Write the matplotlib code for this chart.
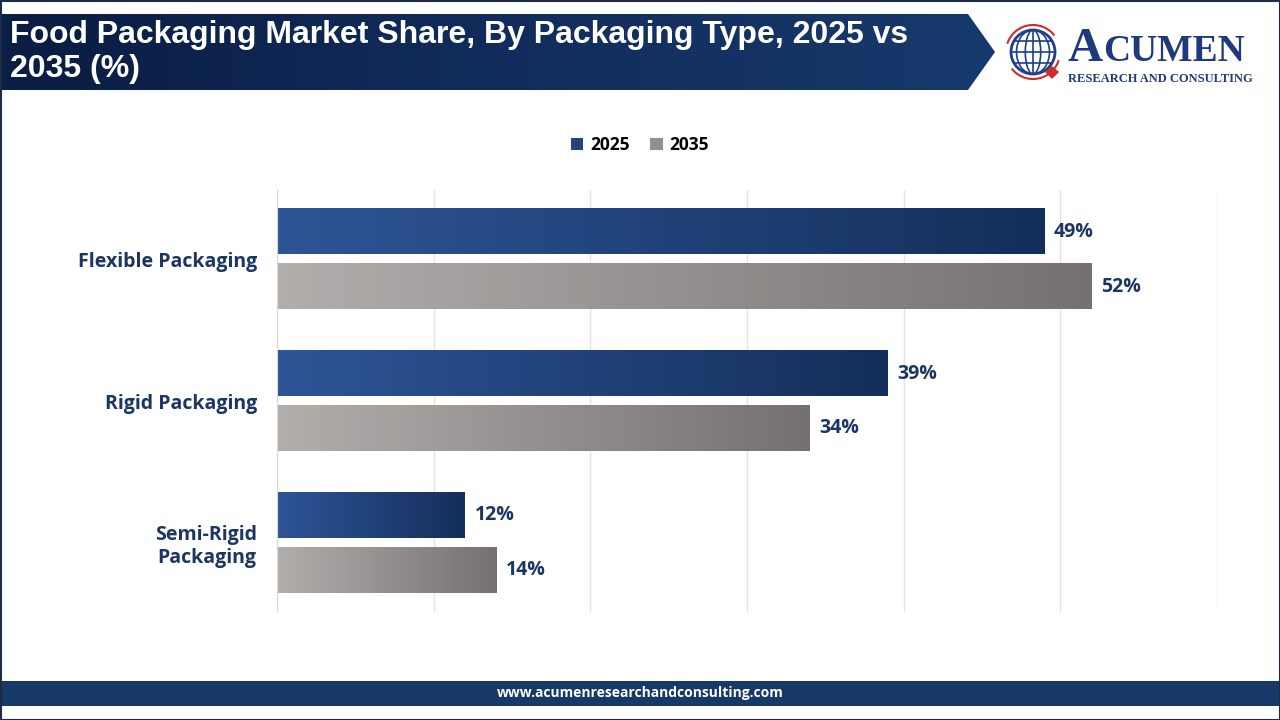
import numpy as np
import matplotlib
matplotlib.use("Agg")
import matplotlib.pyplot as plt
from matplotlib.patches import Polygon, Rectangle, Circle, Ellipse, Patch
from matplotlib.colors import LinearSegmentedColormap

categories = ["Flexible Packaging", "Rigid Packaging", "Semi-Rigid\nPackaging"]
years = ["2025", "2035"]
share_2025 = [49, 39, 12]
share_2035 = [52, 34, 14]

title = "Food Packaging Market Share, By Packaging Type, 2025 vs\n2035 (%)"
url = "www.acumenresearchandconsulting.com"

NAVY = "#1b3663"
cmap_2025 = LinearSegmentedColormap.from_list("c25", ["#2f5597", "#132f5b"])
cmap_2035 = LinearSegmentedColormap.from_list("c35", ["#b1aeac", "#757170"])
cmap_head = LinearSegmentedColormap.from_list("hd", ["#0a1d42", "#112c5c", "#173a6c"])

FONT = ["Liberation Sans", "DejaVu Sans"]
SERIF = ["Liberation Serif", "DejaVu Serif"]
plt.rcParams["font.family"] = ["Open Sans", "DejaVu Sans"]

W, H = 1280, 720
fig = plt.figure(figsize=(12.8, 7.2), dpi=100)
fig.patch.set_facecolor("white")


def fx(px):
    return px / W


def fy(py):
    return 1 - py / H


# background layer in pixel coordinates
bg = fig.add_axes([0, 0, 1, 1], zorder=0)
bg.set_xlim(0, W)
bg.set_ylim(H, 0)
bg.axis("off")

# header banner with arrow tip
head = Polygon([(0, 14), (968, 14), (995, 52), (968, 90), (0, 90)], closed=True,
               facecolor="none", edgecolor="none")
bg.add_patch(head)
grad = np.linspace(0, 1, 256).reshape(1, -1)
im = bg.imshow(grad, cmap=cmap_head, extent=(0, 995, 90, 14), aspect="auto", zorder=1)
im.set_clip_path(head)
bg.text(10, 52, title, color="white", fontsize=23, fontweight="bold",
        family=FONT, va="center", ha="left", linespacing=1.2, zorder=2)

# footer bar
bg.add_patch(Rectangle((0, 681), W, 25, facecolor="#173968", edgecolor="none", zorder=1))
bg.text(W / 2, 693.5, url, color="white", fontsize=10, fontweight="bold",
        ha="center", va="center", zorder=2)

# outer border
bg.add_patch(Rectangle((0.5, 0.5), W - 1, H - 1, facecolor="none",
                       edgecolor="#1c2c44", lw=1.5, zorder=3))

# logo
cx, cy, r = 1033, 52, 22
bg.add_patch(Circle((cx, cy), r, facecolor="white", edgecolor="#1f3f8a", lw=2, zorder=2))
for w in [0.35, 0.75]:
    bg.add_patch(Ellipse((cx, cy), 2 * r * w, 2 * r, facecolor="none",
                         edgecolor="#1f3f8a", lw=1.2, zorder=2))
for dy in [-0.5, 0, 0.5]:
    half = r * np.sqrt(1 - dy ** 2)
    bg.plot([cx - half, cx + half], [cy + dy * r, cy + dy * r], color="#1f3f8a", lw=1.2, zorder=2)
bg.plot([cx, cx], [cy - r, cy + r], color="#1f3f8a", lw=1.2, zorder=2)
t = np.linspace(np.radians(200), np.radians(320), 50)
bg.plot(cx + 27 * np.cos(t), cy + 27 * np.sin(t), color="#d12a2a", lw=1.5, zorder=2)
t = np.linspace(np.radians(20), np.radians(140), 50)
bg.plot(cx + 27 * np.cos(t), cy + 27 * np.sin(t), color="#d12a2a", lw=1.5, zorder=2)
bg.add_patch(Polygon([(1052, 66), (1059, 72), (1052, 79), (1045, 72)], facecolor="#d12a2a",
                     edgecolor="none", zorder=3))
bg.text(1068, 61, "A", color="#1f3a7a", fontsize=35, fontweight="bold",
        family=SERIF, ha="left", va="baseline", zorder=2)
bg.text(1103, 61, "CUMEN", color="#1f3a7a", fontsize=27, fontweight="bold",
        family=SERIF, ha="left", va="baseline", zorder=2)
bg.text(1068, 82, "RESEARCH AND CONSULTING", color="#1f3a7a", fontsize=9, fontweight="bold",
        family=SERIF, ha="left", va="baseline", zorder=2)

# main chart
ax = fig.add_axes([fx(277), fy(612), fx(1217) - fx(277), fy(190) - fy(612)], zorder=2)
ax.patch.set_alpha(0)
y = np.arange(len(categories))
h = 0.318
off = 0.194
bars25 = ax.barh(y - off, share_2025, height=h, color="none", zorder=2)
bars35 = ax.barh(y + off, share_2035, height=h, color="none", zorder=2)

for bars, cmap in [(bars25, cmap_2025), (bars35, cmap_2035)]:
    for b in bars:
        x0, y0, bw, bh = b.get_x(), b.get_y(), b.get_width(), b.get_height()
        ax.imshow(grad, cmap=cmap, extent=(x0, x0 + bw, y0 + bh, y0), aspect="auto", zorder=2)
        ax.text(x0 + bw + 0.6, y0 + bh / 2, f"{bw:.0f}%", color=NAVY, fontsize=14,
                fontweight="bold", va="center", ha="left", zorder=3)

ax.set_xlim(0, 60)
ax.set_ylim(len(categories) - 0.51, -0.49)
ax.set_xticks(np.arange(0, 61, 10))
ax.set_xticklabels([])
ax.tick_params(length=0)
ax.grid(axis="x", color="#e4e4e4", lw=1, zorder=0)
ax.set_axisbelow(True)
for s in ["top", "right", "bottom"]:
    ax.spines[s].set_visible(False)
ax.spines["left"].set_color("#d9d9d9")
ax.set_yticks(y)
ax.set_yticklabels(categories, color=NAVY, fontsize=14, fontweight="bold",
                   multialignment="center")
ax.tick_params(axis="y", pad=14)

handles = [Patch(facecolor="#24457a"), Patch(facecolor="#93908e")]
fig.legend(handles, years, loc="center", bbox_to_anchor=(0.5, fy(145)), ncol=2, frameon=False,
           prop={"size": 12.5, "weight": "bold"}, handlelength=0.7, handleheight=0.7,
           handletextpad=0.4, columnspacing=1.2)

fig.savefig("out.png", dpi=100)
